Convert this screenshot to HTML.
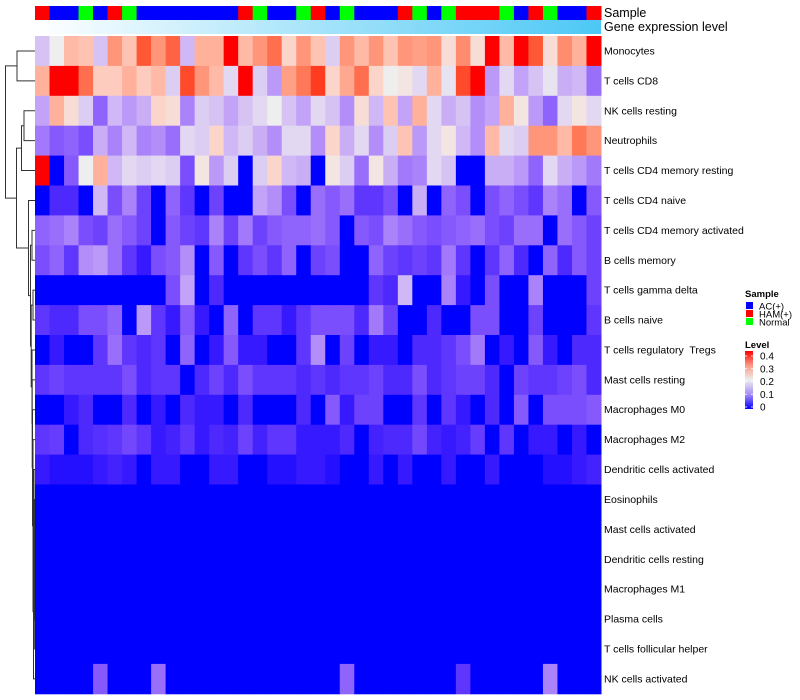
<!DOCTYPE html>
<html><head><meta charset="utf-8"><style>
html,body{margin:0;padding:0;background:#fff;}
svg{display:block;font-family:"Liberation Sans",sans-serif;}
</style></head><body>
<svg id="chart" width="800" height="700" viewBox="0 0 800 700" xmlns="http://www.w3.org/2000/svg">
<defs>
<linearGradient id="geneGrad" x1="0" x2="1" y1="0" y2="0"><stop offset="0" stop-color="#ffffff"/><stop offset="1" stop-color="#4cc8f5"/></linearGradient>
<linearGradient id="levelGrad" x1="0" x2="0" y1="0" y2="1"><stop offset="0" stop-color="#ff0000"/><stop offset="0.25" stop-color="#fb9a86"/><stop offset="0.5" stop-color="#eeeeee"/><stop offset="0.75" stop-color="#a68bf7"/><stop offset="1" stop-color="#0000ff"/></linearGradient>
</defs>
<g id="dendro"></g>
<g id="annot"></g>
<g id="cells"></g>
<g id="labels"></g>
<text x="604" y="17" font-size="12.5" fill="#000">Sample</text>
<text x="604" y="31" font-size="12.5" fill="#000">Gene expression level</text>
<g>
<text x="745" y="297" font-size="9.5" font-weight="bold">Sample</text>
<rect x="746" y="302" width="7" height="7" fill="#0000ff"/>
<text x="759" y="309.5" font-size="9.5">AC(+)</text>
<rect x="746" y="310" width="7" height="7" fill="#ff0000"/>
<text x="759" y="317.5" font-size="9.5">HAM(+)</text>
<rect x="746" y="318" width="7" height="7" fill="#00ff00"/>
<text x="759" y="325.5" font-size="9.5">Normal</text>
<text x="745" y="348" font-size="9.5" font-weight="bold">Level</text>
<rect x="745" y="351" width="8" height="58" fill="url(#levelGrad)"/>
<g id="levelTicks"></g>
</g>
</svg>
<script>
const rowNames=["Monocytes","T cells CD8","NK cells resting","Neutrophils","T cells CD4 memory resting","T cells CD4 naive","T cells CD4 memory activated","B cells memory","T cells gamma delta","B cells naive","T cells regulatory  Tregs","Mast cells resting","Macrophages M0","Macrophages M2","Dendritic cells activated","Eosinophils","Mast cells activated","Dendritic cells resting","Macrophages M1","Plasma cells","T cells follicular helper","NK cells activated"];
const sampleGroups="RBBGBRGBBBBBBBRGBBGRBGBBBRGBGRRRGBRGBBR".split("");
const levelTicks=[0,0.1,0.2,0.3,0.4];
const v0=[.16,.2,.26,.25,.16,.3,.25,.36,.3,.35,.15,.27,.27,.4,.26,.3,.34,.23,.3,.25, .17,.3,.26,.3,.25,.3,.29,.3,.22,.31,.22,.4,.26,.4,.36,.22,.31,.27,.4];
const v1=[.27,.4,.4,.34,.24,.24,.27,.24,.26,.17,.37,.3,.26,.18,.4,.17,.12,.29,.33,.38, .23,.28,.34,.23,.2,.21,.18,.27,.19,.37,.4,.12,.18,.13,.16,.19,.14,.15,.08];
const v2=[.13,.27,.22,.17,.07,.15,.12,.14,.23,.22,.1,.17,.16,.13,.16,.18,.2,.16,.13,.18, .16,.11,.22,.15,.25,.13,.27,.18,.14,.16,.11,.13,.27,.21,.12,.07,.18,.21,.18];
const v3=[.09,.06,.07,.05,.14,.1,.15,.1,.11,.08,.18,.17,.23,.15,.17,.14,.11,.18,.18,.11, .23,.14,.18,.11,.17,.25,.12,.18,.21,.15,.11,.26,.18,.17,.3,.3,.26,.33,.3];
const v4=[.4,0,.06,.2,.27,.15,.18,.17,.18,.17,.05,.21,.12,.17,0,.17,.23,.15,.14,0, .21,.17,.08,.21,.14,.09,.1,.18,.16,0,0,.14,.14,.12,.07,.18,.14,.12,.09];
const v5=[0,.02,.02,0,.15,.05,.1,.04,0,.07,.03,0,.04,0,0,.13,.11,.05,0,.08, .06,.08,.03,.03,.05,0,.14,0,.07,.05,0,.05,.07,.05,.03,.1,.08,0,.06];
const v6=[.07,.08,.1,.05,.04,.08,.06,.04,0,.06,.04,.03,.1,.04,.09,.04,.06,.07,.07,.08, .06,0,.06,.05,.1,.08,.06,.05,.06,.07,.08,.05,.04,.08,.08,0,.08,.06,.04];
const v7=[.05,.07,.03,.11,.12,.08,.03,.01,.05,.06,.11,0,.06,0,.03,.05,.03,.07,0,.04, .05,0,0,.07,.04,.03,.04,.03,.09,.03,0,.03,.07,.02,0,.07,.02,.06,.04];
const v8=[0,0,0,0,0,0,0,0,0,.05,.13,0,.02,0,0,0,0,0,0,0, 0,0,0,.03,.02,.15,0,0,.1,.01,0,.05,0,0,.1,0,0,0,.04];
const v9=[.03,.02,.02,.05,.05,.07,0,.12,.03,.01,.06,.01,0,.07,0,.03,.03,.01,.03,.05, .05,.05,.02,.09,.04,0,0,.02,0,0,.05,.05,0,0,.04,0,0,0,.03];
const v10=[0,.01,0,0,.03,.08,.03,.02,.03,0,.07,0,.01,.06,.01,.01,0,0,.03,.11, 0,.04,0,.01,.01,0,.02,.02,.03,.05,.09,0,.01,0,.06,.01,0,.02,.02];
const v11=[.03,.04,.03,.03,.03,.03,.05,.02,.03,.03,0,.02,.04,.02,.05,.03,.03,.03,.02,.03, .02,.03,.03,.04,.02,.02,.05,.02,.03,.04,.04,.02,0,.04,.03,.03,.04,.05,.02];
const v12=[0,0,.01,.02,0,0,.02,0,.01,0,.02,.01,.01,0,.02,0,0,0,.02,0, .06,.01,.04,.04,0,0,.03,0,.03,.01,0,.02,0,.06,0,.05,.05,.05,.06];
const v13=[.03,.035,0,.02,.025,.03,.045,.03,.01,.015,.03,.01,.02,.015,.04,.015,.03,.03,.01,.01, .01,.02,0,.015,.02,.02,.045,.015,.01,.015,.035,0,.03,0,.01,.01,0,.01,0];
const v14=[.01,.005,.005,.005,.01,.015,.01,0,.01,.01,0,0,.01,.01,0,0,.005,.005,.01,.01, .005,0,0,.01,0,.01,0,0,.01,0,0,.01,0,0,0,.005,.005,.01,.015];
const v15=[0,0,0,0,0,0,0,0,0,0,0,0,0,0,0,0,0,0,0,0, 0,0,0,0,0,0,0,0,0,0,0,0,0,0,0,0,0,0,0];
const v16=v15.slice(),v17=v15.slice(),v18=v15.slice(),v19=v15.slice(),v20=v15.slice();
const v21=[0,0,0,0,.06,0,0,0,.08,0,0,0,0,0,0,0,0,0,0,0, 0,.07,0,0,0,0,0,0,0,.03,0,0,0,0,0,.1,0,0,0];
const values=[v0,v1,v2,v3,v4,v5,v6,v7,v8,v9,v10,v11,v12,v13,v14,v15,v16,v17,v18,v19,v20,v21];
const merges=[[0,1,17],[2,3,24],[23,4,21.5],[15,16,34.8],[25,17,34.8],[26,18,34.8],[27,19,34.8],[28,20,34.7],[14,29,34],[30,21,33.5],[13,31,33],[12,32,32.5],[11,33,32.2],[10,34,32],[8,9,33],[36,35,31.2],[6,7,32],[38,37,30.5],[5,39,28.5],[24,40,16.5],[22,41,5.5]];

const NS="http://www.w3.org/2000/svg";
const X0=35,X1=601,Y0=36,RH=29.9;
const nCol=sampleGroups.length, CW=(X1-X0)/nCol;
const xScale=c=>X0+c*CW;
const yScale=r=>Y0+r*RH;
function mk(tag,attrs,parent){const e=document.createElementNS(NS,tag);for(const k in attrs)e.setAttribute(k,attrs[k]);parent.appendChild(e);return e;}
function s2l(c){c/=255;return c<=0.04045?c/12.92:Math.pow((c+0.055)/1.055,2.4);}
function l2s(c){c=c<=0.0031308?12.92*c:1.055*Math.pow(c,1/2.4)-0.055;return Math.max(0,Math.min(255,Math.round(c*255)));}
function toLab(rgb){const r=s2l(rgb[0]),g=s2l(rgb[1]),b=s2l(rgb[2]);
let x=(0.4124*r+0.3576*g+0.1805*b)/0.95047,y=0.2126*r+0.7152*g+0.0722*b,z=(0.0193*r+0.1192*g+0.9505*b)/1.08883;
const f=t=>t>0.008856?Math.cbrt(t):7.787*t+16/116;x=f(x);y=f(y);z=f(z);return [116*y-16,500*(x-y),200*(y-z)];}
function fromLab(l){let y=(l[0]+16)/116,x=l[1]/500+y,z=y-l[2]/200;
const f=t=>t*t*t>0.008856?t*t*t:(t-16/116)/7.787;x=f(x)*0.95047;y=f(y);z=f(z)*1.08883;
const r=3.2406*x-1.5372*y-0.4986*z,g=-0.9689*x+1.8758*y+0.0415*z,b=0.0557*x-0.2040*y+1.0570*z;
return `rgb(${l2s(r)},${l2s(g)},${l2s(b)})`;}
const LB=toLab([0,0,255]),LW=toLab([238,238,238]),LR=toLab([255,0,0]);
function color(v){v=Math.max(0,Math.min(0.4,v));let a,b,t;if(v<=0.2){a=LB;b=LW;t=v/0.2;}else{a=LW;b=LR;t=(v-0.2)/0.2;}
return fromLab([a[0]+(b[0]-a[0])*t,a[1]+(b[1]-a[1])*t,a[2]+(b[2]-a[2])*t]);}

const cells=document.getElementById('cells');
values.forEach((row,r)=>row.forEach((v,c)=>{
  const e=mk('rect',{x:xScale(c).toFixed(2),y:yScale(r).toFixed(2),width:(CW+0.5).toFixed(2),height:(RH+0.5).toFixed(2),fill:color(v)},cells);
  
  
}));
const annot=document.getElementById('annot');
const gcol={R:'#ff0000',B:'#0000ff',G:'#00ff00'};
sampleGroups.forEach((g,c)=>{
  const e=mk('rect',{x:xScale(c).toFixed(2),y:6,width:(CW+0.5).toFixed(2),height:14,fill:gcol[g]},annot);
  
  
});
const gl=mk('rect',{x:X0,y:20,width:X1-X0,height:14,fill:'url(#geneGrad)'},annot);


const labels=document.getElementById('labels');
rowNames.forEach((n,r)=>{
  const t=mk('text',{x:604,y:(yScale(r)+RH/2+3.5).toFixed(1),'font-size':'10.5',fill:'#000'},labels);
  t.setAttribute('xml:space','preserve');
  t.style.whiteSpace='pre';
  t.textContent=n;
  
  
});
const lt=document.getElementById('levelTicks');
levelTicks.forEach(v=>{
  const y=356+(0.4-v)/0.1*12.75;
  mk('line',{x1:745,x2:747,y1:y,y2:y,stroke:'#fff','stroke-width':0.8},lt);
  mk('line',{x1:751,x2:753,y1:y,y2:y,stroke:'#fff','stroke-width':0.8},lt);
  const t=mk('text',{x:760,y:(y+3.5).toFixed(1),'font-size':'10'},lt);
  t.textContent=String(v);
  
  
});
const dg=document.getElementById('dendro');
const ny={},nx={};
rowNames.forEach((n,i)=>{ny[i]=yScale(i)+RH/2;nx[i]=X0;});
merges.forEach((m,k)=>{
  const id=22+k,[a,b,x]=m;
  ny[id]=(ny[a]+ny[b])/2;nx[id]=x;
  mk('path',{d:`M${nx[a]} ${ny[a]}H${x}V${ny[b]}H${nx[b]}`,fill:'none',stroke:'#333','stroke-width':1},dg);
});
</script>
</body></html>
